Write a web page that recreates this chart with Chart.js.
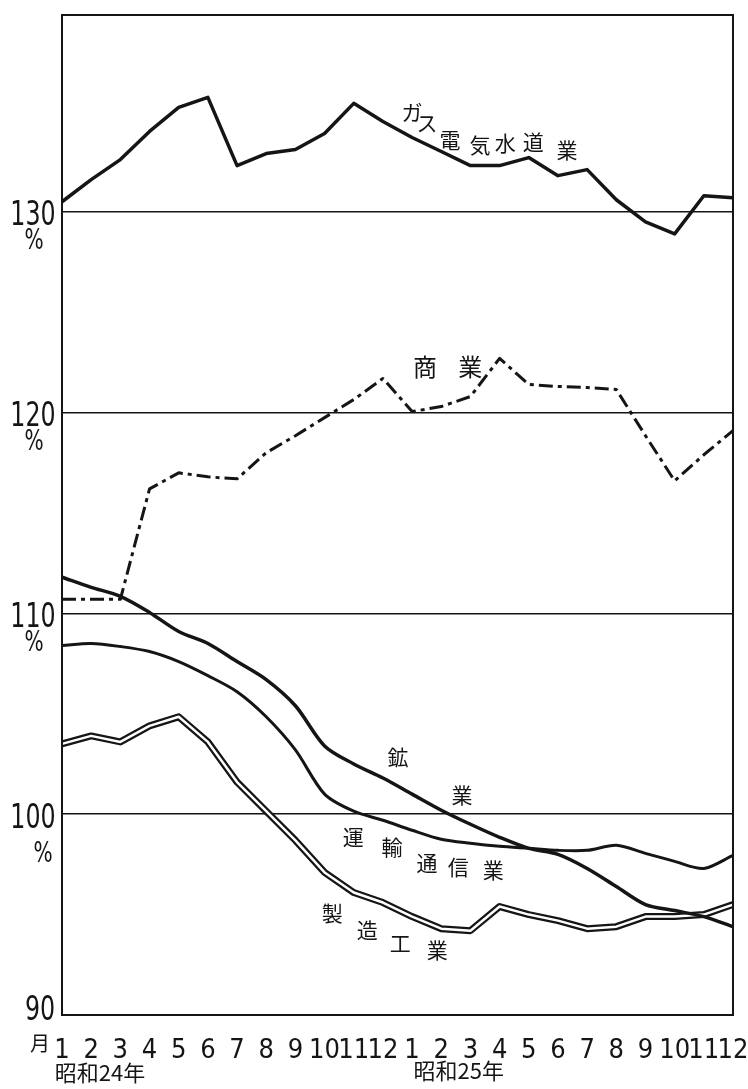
<!DOCTYPE html>
<html lang="ja">
<head>
    <meta charset="UTF-8">
    <title>産業別指数 昭和24-25年</title>
    <style>
        body {
            margin: 0;
            background: #fff;
        }
        #wrap {
            width: 748px;
            height: 1089px;
        }
    </style>
</head>
<body>
    <div id="wrap">
        <canvas id="myChart" width="748" height="1089"></canvas>
    </div>

    <script src="https://cdn.jsdelivr.net/npm/chart.js@4.4.1/dist/chart.umd.min.js"></script>
    <script>
        // months: 昭和24年 1-12, 昭和25年 1-12
        var months = ['1','2','3','4','5','6','7','8','9','10','11','12',
                      '1','2','3','4','5','6','7','8','9','10','11','12'];
        var yearLabels = ['昭和24年', '昭和25年'];
        var yTicks = [90, 100, 110, 120, 130];

        var gas = [130.5, 131.6, 132.6, 134.0, 135.2, 135.7, 132.3, 132.9, 133.1, 133.9, 135.4, 134.5,
                   133.7, 133.0, 132.3, 132.3, 132.7, 131.8, 132.1, 130.6, 129.5, 128.9, 130.8, 130.7];
        var commerce = [110.7, 110.7, 110.7, 116.2, 117.0, 116.8, 116.7, 118.0, 118.85, 119.75, 120.65, 121.7,
                        120.05, 120.3, 120.8, 122.7, 121.4, 121.3, 121.25, 121.15, 118.85, 116.6, 117.9, 119.1];
        var mining = [111.8, 111.3, 110.85, 110.05, 109.1, 108.5, 107.6, 106.7, 105.4, 103.4, 102.5, 101.8,
                      101.0, 100.2, 99.5, 98.85, 98.3, 98.0, 97.3, 96.4, 95.5, 95.2, 94.9, 94.4];
        var transport = [108.4, 108.5, 108.35, 108.1, 107.6, 106.9, 106.1, 104.85, 103.2, 101.0, 100.15, 99.7,
                         99.2, 98.75, 98.55, 98.4, 98.3, 98.2, 98.2, 98.45, 98.05, 97.65, 97.3, 97.95];
        var manufacturing = [103.5, 103.9, 103.6, 104.4, 104.85, 103.6, 101.6, 100.15, 98.7, 97.1, 96.1, 95.6,
                             94.9, 94.3, 94.2, 95.4, 95.0, 94.7, 94.3, 94.4, 94.9, 94.9, 95.0, 95.5];

        // series names, one character per entry: [char, month index, value]
        var gasName = [['ガ', 12.0, 134.97], ['ス', 12.51, 134.42], ['電', 13.3, 133.58], ['気', 14.33, 133.33],
                       ['水', 15.19, 133.43], ['道', 16.15, 133.48], ['業', 17.31, 133.08]];
        var commerceName = [['商', 12.44, 122.27], ['業', 13.99, 122.27]];
        var miningName = [['鉱', 11.52, 102.85], ['業', 13.71, 100.96]];
        var transportName = [['運', 9.98, 98.86], ['輸', 11.31, 98.37], ['通', 12.51, 97.57],
                             ['信', 13.58, 97.37], ['業', 14.78, 97.22]];
        var manufacturingName = [['製', 9.26, 95.08], ['造', 10.46, 94.23], ['工', 11.59, 93.59], ['業', 12.86, 93.24]];
        var seriesNames = [gasName, commerceName, miningName, transportName, manufacturingName];

        var INK = '#151515';
        var NARROW = "'Liberation Sans Narrow', 'DejaVu Sans Condensed', 'Liberation Sans', sans-serif";
        var CJK = "'Noto Sans CJK JP', sans-serif";

        function narrowText(ctx, text, x, y, size, sx) {
            ctx.save();
            ctx.translate(x, y);
            ctx.scale(sx, 1);
            ctx.font = size + 'px ' + NARROW;
            ctx.fillText(text, 0, 0);
            ctx.restore();
        }

        var decorations = {
            id: 'decorations',
            afterDatasetsDraw: function(chart) {
                var ctx = chart.ctx;
                var area = chart.chartArea;
                var xs = chart.scales.x;
                var ys = chart.scales.y;

                // frame
                ctx.save();
                ctx.strokeStyle = INK;
                ctx.lineWidth = 2;
                ctx.strokeRect(area.left, area.top, area.right - area.left, area.bottom - area.top);

                // y labels with % underneath
                ctx.fillStyle = INK;
                ctx.textAlign = 'center';
                ctx.textBaseline = 'middle';
                yTicks.forEach(function(v) {
                    var py = ys.getPixelForValue(v);
                    if (v === 90) {
                        narrowText(ctx, String(v), 40, py - 4, 33, 0.8);
                        ctx.font = '20px ' + CJK;
                        ctx.fillText('月', 40, py + 28);
                    } else {
                        narrowText(ctx, String(v), 33, py + 5, 33, 0.8);
                        narrowText(ctx, '%', v === 100 ? 43 : 34, py + (v === 100 ? 41 : 30), 28, 0.8);
                    }
                });

                // year labels under the month ticks
                ctx.font = '22px ' + CJK;
                ctx.fillText(yearLabels[0], xs.getPixelForValue(1.3), area.bottom + 58);
                ctx.fillText(yearLabels[1], xs.getPixelForValue(13.6), area.bottom + 56);

                // series names along the lines
                seriesNames.forEach(function(name, k) {
                    ctx.font = (k === 1 ? 24 : 21) + 'px ' + CJK;
                    name.forEach(function(c) {
                        ctx.fillText(c[0], xs.getPixelForValue(c[1]), ys.getPixelForValue(c[2]));
                    });
                });
                ctx.restore();
            }
        };

        var ctx = document.getElementById('myChart').getContext('2d');

        var config = {
            type: 'line',
            data: {
                labels: months,
                datasets: [{
                    label: 'ガス電気水道業',
                    data: gas,
                    borderColor: INK,
                    borderWidth: 3.5,
                    tension: 0
                }, {
                    label: '商業',
                    data: commerce,
                    borderColor: INK,
                    borderWidth: 3,
                    borderDash: [14, 5, 4, 5],
                    tension: 0
                }, {
                    label: '鉱業',
                    data: mining,
                    borderColor: INK,
                    borderWidth: 3.5,
                    tension: 0.3
                }, {
                    label: '運輸通信業',
                    data: transport,
                    borderColor: INK,
                    borderWidth: 3,
                    tension: 0.3
                }, {
                    label: '製造工業',
                    data: manufacturing,
                    borderColor: INK,
                    borderWidth: 7,
                    tension: 0,
                    order: 2
                }, {
                    label: '製造工業 (inner)',
                    data: manufacturing,
                    borderColor: '#ffffff',
                    borderWidth: 2.5,
                    tension: 0,
                    order: 1
                }]
            },
            options: {
                responsive: false,
                animation: false,
                layout: {
                    padding: { top: 15, right: 15, left: 0, bottom: 0 }
                },
                elements: {
                    point: { radius: 0 },
                    line: { borderJoinStyle: 'round', borderCapStyle: 'butt' }
                },
                plugins: {
                    legend: { display: false },
                    tooltip: { enabled: false }
                },
                scales: {
                    x: {
                        type: 'category',
                        offset: false,
                        grid: { display: false },
                        border: { display: false },
                        ticks: {
                            autoSkip: false,
                            maxRotation: 0,
                            color: INK,
                            padding: 12,
                            font: { family: NARROW, size: 27 }
                        },
                        afterFit: function(s) {
                            s.height = 74;
                            s.paddingLeft = 0;
                            s.paddingRight = 0;
                        }
                    },
                    y: {
                        min: 90,
                        max: 139.8,
                        grid: {
                            color: INK,
                            lineWidth: 1.5,
                            drawTicks: false
                        },
                        border: { display: false },
                        ticks: {
                            stepSize: 10,
                            includeBounds: false,
                            display: false
                        },
                        afterFit: function(s) { s.width = 62; }
                    }
                }
            },
            plugins: [decorations]
        };

        var chart = new Chart(ctx, config);
    </script>
</body>
</html>
